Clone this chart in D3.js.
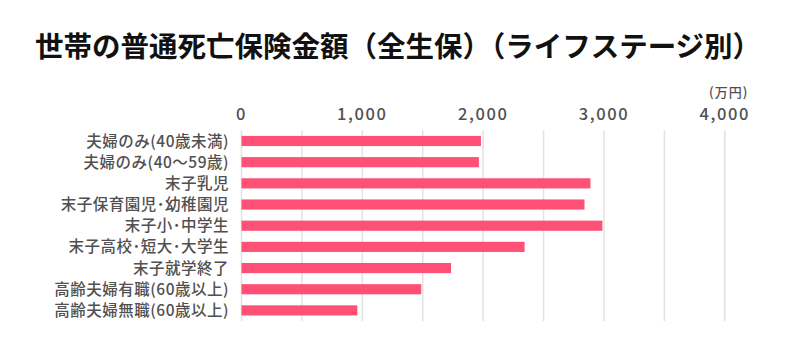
<!DOCTYPE html>
<html>
<head>
<meta charset="utf-8">
<script src="https://cdn.jsdelivr.net/npm/d3@7"></script>
<style>
  html, body { margin: 0; padding: 0; background: #fff; }
  svg { display: block; }
  text { font-family: "Noto Sans CJK JP", "Noto Sans", sans-serif; }
</style>
</head>
<body>
<svg id="chart" width="800" height="350"></svg>
<script>
// 世帯の普通死亡保険金額（万円）
const categories = [
  "夫婦のみ(40歳未満)",
  "夫婦のみ(40〜59歳)",
  "末子乳児",
  "末子保育園児･幼稚園児",
  "末子小･中学生",
  "末子高校･短大･大学生",
  "末子就学終了",
  "高齢夫婦有職(60歳以上)",
  "高齢夫婦無職(60歳以上)"
];
const amounts = [1986, 1969, 2892, 2843, 2991, 2347, 1738, 1492, 963];
const tickValues = [0, 1000, 2000, 3000, 4000];
const gridValues = [0, 500, 1000, 1500, 2000, 2500, 3000, 3500, 4000];
const titleText = "世帯の普通死亡保険金額（全生保）（ライフステージ別）";
const unitText = "(万円)";

const svg = d3.select("#chart");
const textColor = "#505050";

const x = d3.scaleLinear().domain([0, 4000]).range([241, 724.3]);
const y = d3.scaleBand()
  .domain(categories)
  .range([130.4, 321])
  .paddingInner(0.52)
  .paddingOuter(0.26);

// title
svg.append("text")
  .attr("x", 398)
  .attr("y", 57)
  .attr("text-anchor", "middle")
  .attr("font-size", 28.5)
  .attr("font-weight", 700)
  .attr("fill", "#111")
  .text(titleText);

// vertical gridlines
const grid = svg.append("g")
  .attr("transform", `translate(0,${y.range()[0]})`)
  .call(d3.axisBottom(x)
    .tickValues(gridValues)
    .tickSize(y.range()[1] - y.range()[0])
    .tickFormat(""));
grid.select(".domain").remove();
grid.selectAll(".tick line")
  .attr("stroke", "#e2e2e2")
  .attr("stroke-width", 1.5);

// value axis along the top
const valueAxis = svg.append("g")
  .attr("transform", "translate(0,120)")
  .call(d3.axisTop(x)
    .tickValues(tickValues)
    .tickSize(0)
    .tickPadding(0)
    .tickFormat(d3.format(",")));
valueAxis.select(".domain").remove();
valueAxis.selectAll(".tick text")
  .attr("font-family", "\"Noto Sans CJK JP\", sans-serif")
  .attr("font-size", 16.5)
  .attr("font-weight", 500)
  .attr("letter-spacing", 1.6)
  .attr("fill", textColor)
  .attr("dy", 0);

// unit label above the last tick
svg.append("text")
  .attr("x", x(4000) + 24)
  .attr("y", 97)
  .attr("text-anchor", "end")
  .attr("font-size", 13)
  .attr("font-weight", 500)
  .attr("letter-spacing", 1)
  .attr("fill", textColor)
  .text(unitText);

// category labels
const catAxis = svg.append("g")
  .attr("transform", "translate(229,0)")
  .call(d3.axisLeft(y).tickSize(0).tickPadding(0));
catAxis.select(".domain").remove();
catAxis.selectAll(".tick text")
  .attr("font-family", "\"Noto Sans CJK JP\", sans-serif")
  .attr("font-size", 15.5)
  .attr("font-weight", 500)
  .attr("letter-spacing", 0.5)
  .attr("fill", textColor)
  .attr("dy", "0.36em");

// bars
svg.append("g")
  .selectAll("rect")
  .data(amounts)
  .join("rect")
  .attr("x", x(0) + 0.5)
  .attr("y", (d, i) => y(categories[i]))
  .attr("width", d => x(d) - x(0) - 0.5)
  .attr("height", y.bandwidth())
  .attr("fill", "#fe5175");
</script>
</body>
</html>
